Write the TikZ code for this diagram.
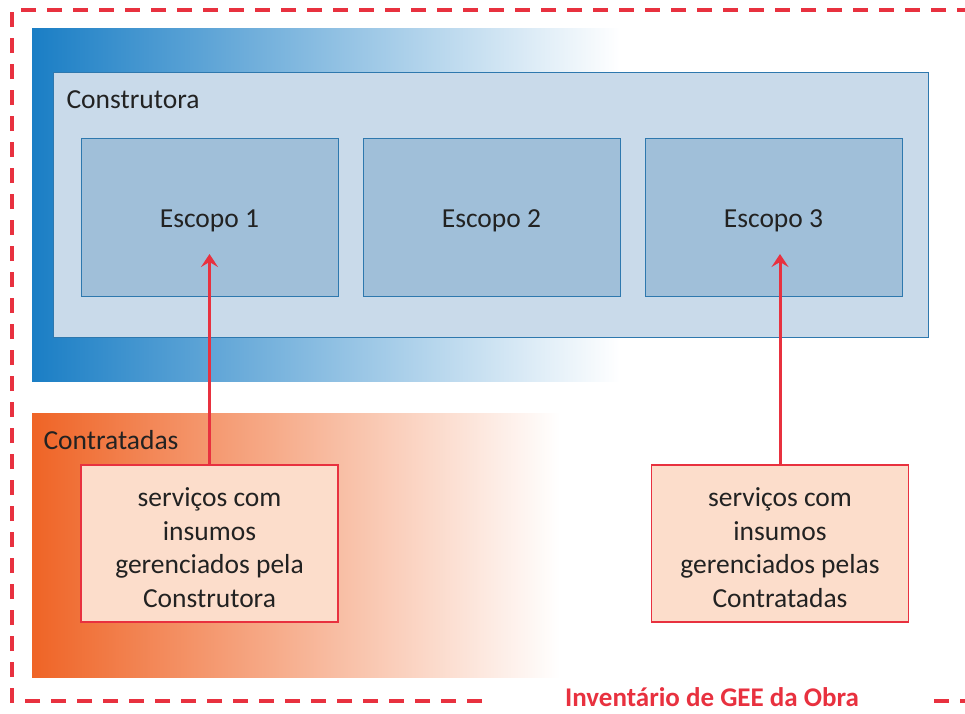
\documentclass[tikz,border=0pt]{standalone}
\usepackage{fontspec}
\setmainfont{Carlito}
\usetikzlibrary{arrows.meta}

\definecolor{gee}{HTML}{E8313F}
\definecolor{azul}{HTML}{1A7EC5}
\definecolor{azulclaro}{HTML}{C9DAEA}
\definecolor{azulmedio}{HTML}{A0BFD9}
\definecolor{azulborda}{HTML}{2E78AE}
\definecolor{laranja}{HTML}{EF6426}
\definecolor{salmao}{HTML}{FCDDCB}
\definecolor{texto}{HTML}{222222}

\tikzset{
  caixa/.style={draw=azulborda, line width=0.8pt, inner sep=0pt},
  escopobox/.style={caixa, fill=azulmedio, minimum width=257pt, minimum height=158pt},
  servbox/.style={draw=gee, line width=1.2pt, fill=salmao, minimum width=257pt, minimum height=157pt, inner sep=0pt},
  texto dentro/.style={label={[yshift=-4pt, align=center]center:#1}},
  seta/.style={gee, line width=3pt, -{Stealth[length=13pt, width=17pt, inset=5pt]}},
  borda/.style={gee, line width=3.5pt, dash pattern=on 15pt off 11pt}
}

\begin{document}
\begin{tikzpicture}[x=1pt, y=-1pt, font=\fontsize{27.5}{33.5}\selectfont, text=texto]
  \useasboundingbox (0,0) rectangle (965,713);
  % fundos em degrade
  \shade[left color=azul, right color=white] (32,28) rectangle (620,381);
  \shade[left color=laranja, right color=white] (32,413) rectangle (560,677);

  \node[caixa, fill=azulclaro, minimum width=875pt, minimum height=265pt] (constr) at (490.5,204.5) {};
  \node[anchor=west] (lconstr) at (63,100) {Construtora};
  \node[anchor=west] (lcontr) at (40,440) {Contratadas};

  \foreach \i/\x in {1/209.5, 2/491.5, 3/773.5}
  {  \node[escopobox, texto dentro={Escopo \i}] (esc\i) at (\x,217) {};
  }

  \node[servbox, texto dentro={serviços com\\insumos\\gerenciados pela\\Construtora}] (serv1) at (209.5,543.5) {};
  \node[servbox, texto dentro={serviços com\\insumos\\gerenciados pelas\\Contratadas}] (serv3) at (780,543.5) {};

  \coordinate (alvo1) at (209.5,254);
  \coordinate (alvo3) at (780,254);
  \draw[seta] (serv1.north) -- (alvo1);
  \draw[seta] (serv3.north) -- (alvo3);

  % limite do inventario
  \node[text=gee, font=\fontsize{27}{30}\selectfont\bfseries, inner ysep=2pt] (inv) at (712,697) {Inventário de GEE da Obra};
  \draw[borda] (482,701) -- (12,701) -- (12,10) -- (990,10);
  \draw[borda] (934,701) -- (990,701);
\end{tikzpicture}
\end{document}
